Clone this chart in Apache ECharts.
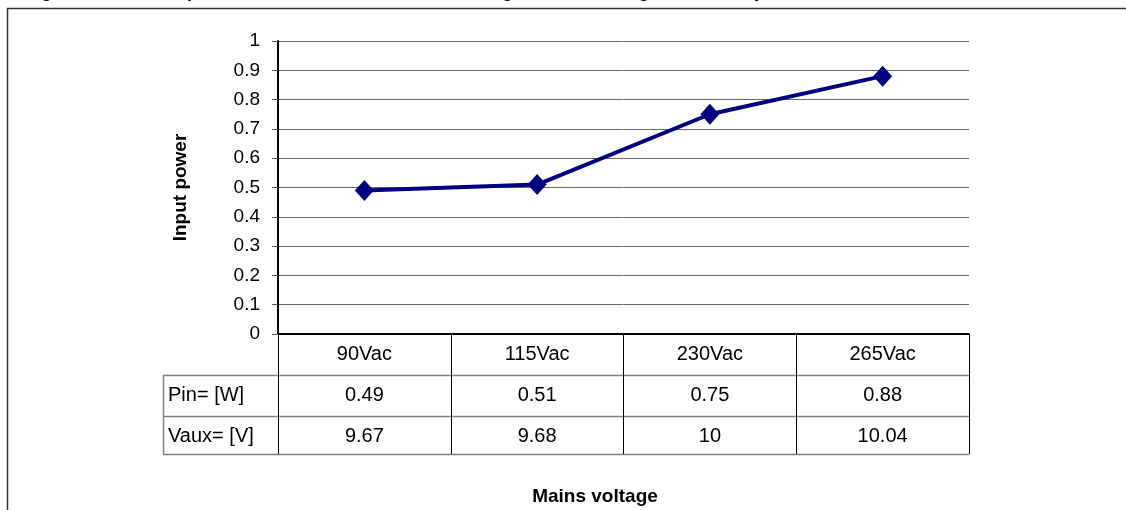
<!DOCTYPE html>
<html>
<head>
<meta charset="utf-8">
<script src="https://cdn.jsdelivr.net/npm/echarts@6/dist/echarts.min.js"></script>
<style>
html, body { margin: 0; padding: 0; background: #fff; }
#chart { width: 1126px; height: 510px; }
</style>
</head>
<body>
<div id="chart"></div>
<script>
// data
var categories = ['90Vac', '115Vac', '230Vac', '265Vac'];
var pinValues = [0.49, 0.51, 0.75, 0.88];
var vauxValues = [9.67, 9.68, 10, 10.04];
var rowLabels = ['Pin= [W]', 'Vaux= [V]'];
// caption is cut off by the top edge in the picture, only descenders show
var titleText = 'Figure 13. Consumption at zero load vs. the mains voltage, with Vaux regulated, set by';

var font = 'Liberation Sans, Arial, sans-serif';
var gridLeft = 278, gridRight = 157, gridTop = 41, gridBottom = 176;
var rowH = 41;
var tableLeft = 163;

var myChart = echarts.init(document.getElementById('chart'));

var option = {
    animation: false,
    textStyle: { fontFamily: font },
    grid: { left: gridLeft, right: gridRight, top: gridTop, bottom: gridBottom },
    xAxis: {
        type: 'category',
        data: categories,
        boundaryGap: true,
        axisLine: { lineStyle: { color: '#000', width: 2 } },
        axisTick: { show: true, interval: 0, length: 120, lineStyle: { color: '#000', width: 1 } },
        axisLabel: {
            interval: 0,
            margin: 0,
            formatter: function (value, idx) {
                return '{a|' + value + '}\n{a|' + pinValues[idx] + '}\n{a|' + vauxValues[idx] + '}';
            },
            rich: {
                a: { fontSize: 20, color: '#000', lineHeight: rowH, fontFamily: font }
            }
        }
    },
    yAxis: {
        type: 'value',
        min: 0,
        max: 1,
        interval: 0.1,
        name: 'Input power',
        nameLocation: 'middle',
        nameRotate: 90,
        nameGap: 88,
        nameTextStyle: { fontSize: 19, fontWeight: 'bold', color: '#000', fontFamily: font },
        axisLine: { show: true, lineStyle: { color: '#000', width: 2 } },
        axisTick: { show: true, length: 6, lineStyle: { color: '#555' } },
        axisLabel: { fontSize: 19, color: '#000', margin: 18, fontFamily: font },
        splitLine: { lineStyle: { color: '#666', width: 1 } }
    },
    series: [{
        type: 'line',
        data: pinValues,
        symbol: 'diamond',
        symbolSize: [19, 21],
        lineStyle: { color: '#000080', width: 4 },
        itemStyle: { color: '#000080' },
        z: 5
    }]
};
myChart.setOption(option);

// table borders and row headers, placed from the axis scales
var y0 = myChart.convertToPixel({ yAxisIndex: 0 }, 0);
var xRight = 1126 - gridRight;
var g = [];
g.push({ type: 'rect', shape: { x: 7.5, y: 8.5, width: 1300, height: 700 },
    style: { fill: 'none', stroke: '#333', lineWidth: 1.5 }, silent: true });
g.push({ type: 'text', x: 25, y: 1,
    style: { text: titleText, font: 'bold 18px ' + font, fill: '#000', verticalAlign: 'bottom', align: 'left' } });
for (var r = 1; r <= 3; r++) {
    var yy = Math.round(y0 + (r === 3 ? 119.5 : rowH * r)) + 0.5;
    g.push({ type: 'line', shape: { x1: tableLeft, y1: yy, x2: xRight, y2: yy },
        style: { stroke: '#808080', lineWidth: 1.5 }, silent: true });
}
g.push({ type: 'line', shape: { x1: tableLeft + 0.5, y1: y0 + rowH, x2: tableLeft + 0.5, y2: y0 + 120 },
    style: { stroke: '#808080', lineWidth: 1.5 }, silent: true });
for (var k = 0; k < rowLabels.length; k++) {
    g.push({ type: 'text', x: tableLeft + 5, y: y0 + rowH * (k + 1) + rowH / 2,
        style: { text: rowLabels[k], font: '20px ' + font, fill: '#000', verticalAlign: 'middle', align: 'left' } });
}
g.push({ type: 'text', x: 595, y: 497,
    style: { text: 'Mains voltage', font: 'bold 19px ' + font, fill: '#000', align: 'center', verticalAlign: 'middle' } });
myChart.setOption({ graphic: g });
</script>
</body>
</html>
